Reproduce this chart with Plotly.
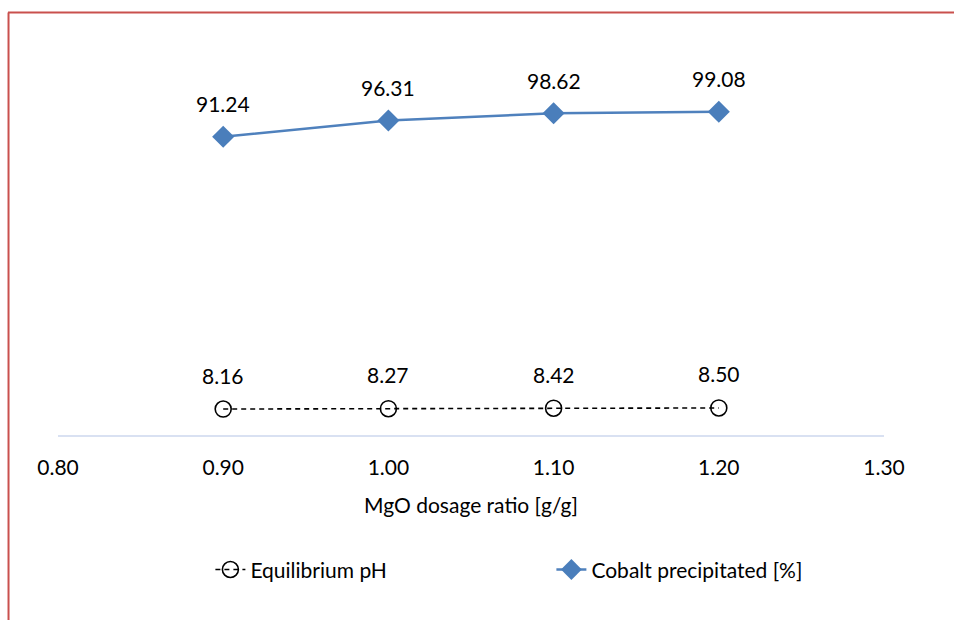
import plotly.graph_objects as go

dosage = [0.90, 1.00, 1.10, 1.20]
ph_values = [8.16, 8.27, 8.42, 8.50]
cobalt_values = [91.24, 96.31, 98.62, 99.08]
x_ticks = [0.80, 0.90, 1.00, 1.10, 1.20, 1.30]

FONT = "Lato"
FS = 21
fig = go.Figure()

fig.add_trace(go.Scatter(
    x=dosage, y=ph_values, name="Equilibrium pH", yaxis="y2",
    mode="lines+markers",
    line=dict(color="black", width=1.6, dash="5px,4px"),
    marker=dict(symbol="circle-open", size=16, color="black", line=dict(width=1.6, color="black")),
))
fig.add_trace(go.Scatter(
    x=dosage, y=cobalt_values, name="Cobalt precipitated [%]",
    mode="lines+markers",
    line=dict(color="#4f81bd", width=2.5),
    marker=dict(symbol="diamond", size=17, color="#4a7ebb"),
))

annotations = []
for xv, yv in zip(dosage, cobalt_values):
    annotations.append(dict(x=xv, y=yv, xref="x", yref="y", text=f"{yv:.2f}",
                            showarrow=False, yshift=33, font=dict(family=FONT, size=FS, color="black")))
for xv, yv in zip(dosage, ph_values):
    annotations.append(dict(x=xv, y=yv, xref="x", yref="y2", text=f"{yv:.2f}",
                            showarrow=False, yshift=34, font=dict(family=FONT, size=FS, color="black")))

red = "#c9504d"
shapes = [
    dict(type="line", xref="paper", yref="paper", x0=-0.0599, x1=-0.0599, y0=1.0432, y1=-0.46,
         line=dict(color=red, width=2)),
    dict(type="line", xref="paper", yref="paper", x0=-0.0605, x1=1.09, y0=1.0432, y1=1.0432,
         line=dict(color=red, width=2)),
]

fig.update_layout(
    width=954, height=620,
    margin=dict(l=58, r=70, t=30, b=185),
    paper_bgcolor="white", plot_bgcolor="white",
    font=dict(family=FONT, size=FS, color="black"),
    xaxis=dict(range=[0.8, 1.3], tickvals=x_ticks, ticktext=[f"{v:.2f}" for v in x_ticks],
               showgrid=False, zeroline=False, showline=True, linecolor="#d9e1f2", linewidth=1.5,
               ticks="", ticklabelstandoff=13,
               title=dict(text="MgO dosage ratio [g/g]", standoff=20, font=dict(size=FS))),
    yaxis=dict(range=[-2.26, 124.7], visible=False),
    yaxis2=dict(range=[0, 127.3], overlaying="y", side="right", visible=False),
    showlegend=True,
    legend=dict(orientation="h", x=0.1845, xanchor="left", y=-0.333, yanchor="middle",
                entrywidth=296, font=dict(size=FS), bgcolor="rgba(0,0,0,0)"),
    annotations=annotations,
    shapes=shapes,
)

fig.write_html("out.html")
